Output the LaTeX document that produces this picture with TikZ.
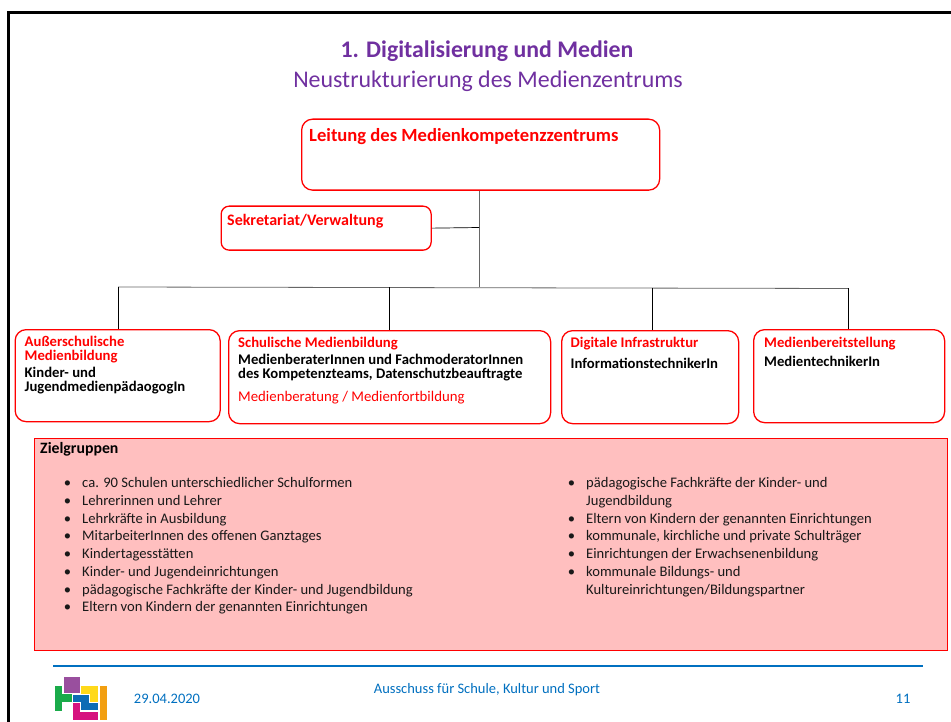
\documentclass[tikz,border=0pt]{standalone}
\usepackage{fontspec}
\setmainfont{Carlito}
\definecolor{titlepurple}{HTML}{7030A0}
\definecolor{footblue}{HTML}{0070C0}
\definecolor{rosa}{HTML}{FFBFBF}
\definecolor{lgreen}{HTML}{1AAB4A}
\definecolor{lyellow}{HTML}{FFD91A}
\definecolor{lorange}{HTML}{F29F11}
\definecolor{lmag}{HTML}{D6127F}
\definecolor{lblue}{HTML}{0B6CB5}
\definecolor{lpurp}{HTML}{994F9E}
\tikzset{
  orgbox/.style={draw=red,line width=1.3pt,rounded corners=11pt,fill=white},
  wire/.style={draw=black,line width=0.7pt},
  graywire/.style={draw=black!60,line width=0.8pt},
  head/.style={text=red,font=\bfseries\fontsize{14.7}{14}\selectfont,anchor=north west,align=left,inner sep=0pt},
  sub/.style={text=black,font=\bfseries\fontsize{14.7}{14}\selectfont,anchor=north west,align=left,inner sep=0pt},
  lst/.style={text=black!90,font=\fontsize{14.6}{17.7}\selectfont,anchor=north west,align=left,inner sep=0pt},
  foot/.style={text=footblue,font=\fontsize{14.5}{14}\selectfont,inner sep=0pt},
  logo/.style={draw=white,line width=0.4pt},
}
\newcommand{\bul}{\makebox[0pt][r]{\textbullet\hspace{11pt}}}
\begin{document}
\begin{tikzpicture}[x=1pt,y=-1pt]
\useasboundingbox (0,0) rectangle (951,722);
\fill[white] (0,0) rectangle (951,722);
\draw[black,line width=2.6pt] (8.5,722) -- (8.5,12.5) -- (951,12.5);
% title
\node[text=titlepurple,font=\bfseries\fontsize{23.8}{24}\selectfont] (t1) at (487,51.5) {1. Digitalisierung und Medien};
\node[text=titlepurple,font=\fontsize{23.9}{24}\selectfont] (t2) at (488,81.5) {Neustrukturierung des Medienzentrums};
% boxes
\node[orgbox,minimum width=358pt,minimum height=71pt,anchor=north west] (lead) at (301,118.5) {};
\node[head,font=\bfseries\fontsize{18.6}{18}\selectfont] (leadt) at (309,128) {Leitung des Medienkompetenzzentrums};
\node[orgbox,rounded corners=8pt,minimum width=210pt,minimum height=44pt,anchor=north west] (sek) at (220.5,205.5) {};
\node[head,font=\bfseries\fontsize{16}{16}\selectfont] (sekt) at (227,214.5) {Sekretariat/Verwaltung};
\node[orgbox,minimum width=205pt,minimum height=92pt,anchor=north west] (a) at (14.5,329) {};
\node[orgbox,minimum width=322pt,minimum height=93pt,anchor=north west] (b) at (228,330) {};
\node[orgbox,minimum width=177pt,minimum height=93pt,anchor=north west] (c) at (561,330) {};
\node[orgbox,minimum width=191pt,minimum height=93pt,anchor=north west] (d) at (753,329) {};
\node[head] (at) at (24.5,336) {Außerschulische\\Medienbildung};
\node[sub] (as) at (24.5,367) {Kinder- und\\JugendmedienpädaogogIn};
\node[head] (bt) at (238,337) {Schulische Medienbildung};
\node[sub] (bs) at (238,353.5) {MedienberaterInnen und FachmoderatorInnen\\des Kompetenzteams, Datenschutzbeauftragte};
\node[anchor=north west,inner sep=0pt,text=red,font=\fontsize{14.8}{15}\selectfont] (bm) at (238,391) {Medienberatung / Medienfortbildung};
\node[head] (ct) at (570.5,337) {Digitale Infrastruktur};
\node[sub] (cs) at (570.5,358) {InformationstechnikerIn};
\node[head] (dt) at (764,337) {Medienbereitstellung};
\node[sub] (ds) at (764,356) {MedientechnikerIn};
% connectors
\coordinate (bus) at (479,287);
\coordinate (sekj) at (479,227.5);
\coordinate (busa) at (118,287);
\coordinate (busb) at (389.5,287.5);
\coordinate (busc) at (652.5,288);
\coordinate (busd) at (848,288.5);
\draw[graywire] (bus |- lead.south) -- (bus);
\draw[wire] (sek.east) -- (sekj);
\draw[graywire] (busa) -- (busd);
\draw[wire] (busa) -- (busa |- a.north);
\draw[wire] (busb) -- (busb |- b.north);
\draw[wire] (busc) -- (busc |- c.north);
\draw[wire] (busd) -- (busd |- d.north);
% Zielgruppen
\node[draw=red,line width=1.3pt,fill=rosa,minimum width=913pt,minimum height=212pt,anchor=north west] (z) at (33.5,438) {};
\node[sub,font=\bfseries\fontsize{15.8}{16}\selectfont] (zt) at (40,442) {Zielgruppen};
\node[lst] (l1) at (82,477.5) {\bul ca. 90 Schulen unterschiedlicher Schulformen\\
\bul Lehrerinnen und Lehrer\\
\bul Lehrkräfte in Ausbildung\\
\bul MitarbeiterInnen des offenen Ganztages\\
\bul Kindertagesstätten\\
\bul Kinder- und Jugendeinrichtungen\\
\bul pädagogische Fachkräfte der Kinder- und Jugendbildung\\
\bul Eltern von Kindern der genannten Einrichtungen};
\node[lst] (l2) at (586,477.5) {\bul pädagogische Fachkräfte der Kinder- und\\
Jugendbildung\\
\bul Eltern von Kindern der genannten Einrichtungen\\
\bul kommunale, kirchliche und private Schulträger\\
\bul Einrichtungen der Erwachsenenbildung\\
\bul kommunale Bildungs- und\\
Kultureinrichtungen/Bildungspartner};
% footer
\coordinate (fl) at (53,665.5);
\coordinate (fr) at (923,665.5);
\draw[footblue,line width=2pt] (fl) -- (fr);
\node[foot] (date) at (167,698.5) {29.04.2020};
\node[foot] (aus) at (487,689.5) {Ausschuss für Schule, Kultur und Sport};
\node[foot] (pg) at (903,698.5) {11};
% logo
\fill[lgreen,logo] (54,685) -- (62,685) -- (62,693) -- (72,693) -- (72,702) -- (62,702) -- (62,711) -- (54,711) -- cycle;
\fill[lyellow,logo] (80,685) rectangle (98,702);
\fill[lorange,logo] (99,685) rectangle (107,720);
\fill[lmag,logo] (72,702) -- (80,702) -- (80,711) -- (98,711) -- (98,720) -- (72,720) -- cycle;
\fill[lblue,logo] (72,694) -- (89,694) -- (89,702) -- (98,702) -- (98,710) -- (80,710) -- (80,702) -- (72,702) -- cycle;
\fill[lpurp,logo] (63,676) rectangle (80,693);
\end{tikzpicture}
\end{document}
